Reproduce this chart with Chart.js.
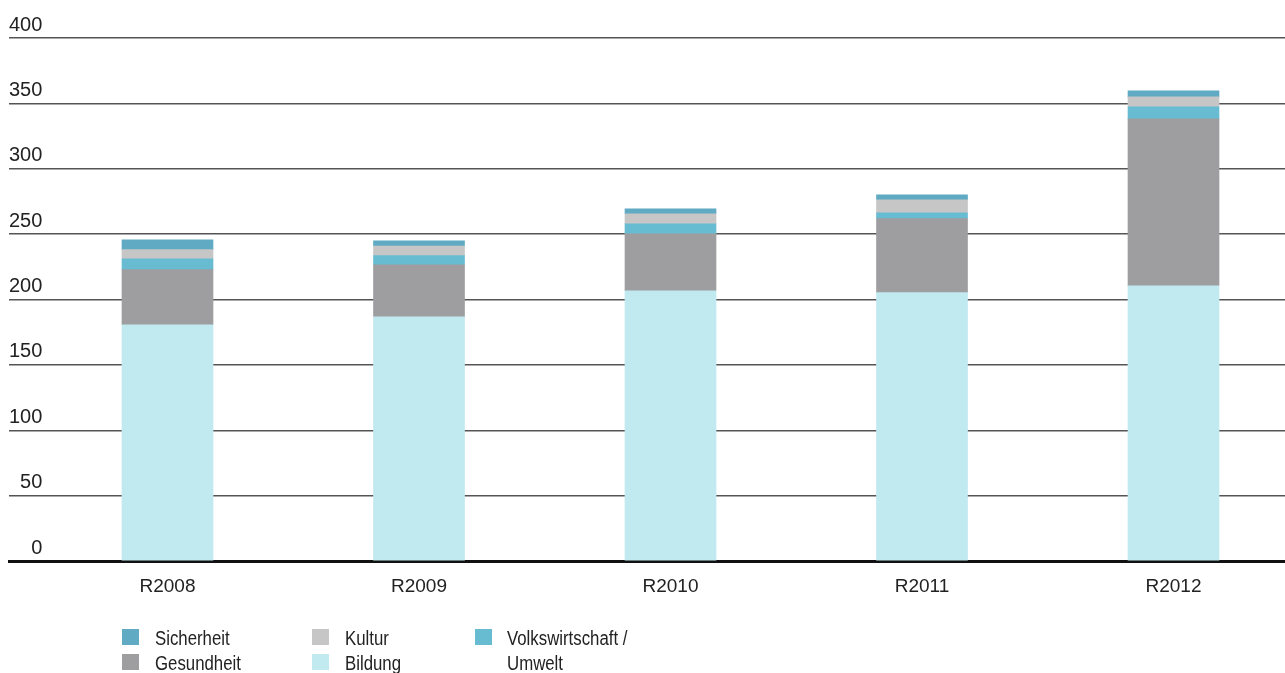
<!DOCTYPE html>
<html>
<head>
<meta charset="utf-8">
<script src="https://cdn.jsdelivr.net/npm/chart.js@4"></script>
<style>
  html, body { margin: 0; padding: 0; background: #fff; overflow: hidden; }
  #wrap { position: relative; width: 1285px; height: 673px; }
  canvas { position: absolute; left: 0; top: 0; }
  .lg { position: absolute; font-family: 'Liberation Sans', sans-serif; font-size: 20px; color: #222; line-height: 25px; white-space: nowrap; transform: scaleX(0.84); transform-origin: 0 0; }
  .sw { position: absolute; width: 17px; height: 16px; }
</style>
</head>
<body>
<div id="wrap">
  <canvas id="c" width="1285" height="673"></canvas>
</div>
<script>
const categories = ['R2008', 'R2009', 'R2010', 'R2011', 'R2012'];
const bildung = [180.7, 186.8, 206.7, 205.2, 210.5];
const gesundheit = [42.1, 39.8, 43.6, 56.6, 127.7];
const volkswirtschaft = [8.4, 6.9, 7.6, 4.5, 9.2];
const kultur = [6.9, 7.4, 7.7, 10.0, 7.6];
const sicherheit = [7.6, 4.0, 3.8, 3.8, 4.6];
const yTicks = [0, 50, 100, 150, 200, 250, 300, 350, 400];

const FONT = "'Liberation Sans', sans-serif";
Chart.defaults.font.family = FONT;
Chart.defaults.font.size = 20;
Chart.defaults.color = '#222';

const toPts = arr => arr.map((v, i) => ({ x: i, y: v }));

const datasets = [
  { label: 'Bildung', data: toPts(bildung), backgroundColor: '#c0e9f0' },
  { label: 'Gesundheit', data: toPts(gesundheit), backgroundColor: '#9e9ea0' },
  { label: 'Volkswirtschaft / Umwelt', data: toPts(volkswirtschaft), backgroundColor: '#68bcd2' },
  { label: 'Kultur', data: toPts(kultur), backgroundColor: '#c6c6c6' },
  { label: 'Sicherheit', data: toPts(sicherheit), backgroundColor: '#60aac4' }
];

const chart = new Chart(document.getElementById('c'), {
  type: 'bar',
  data: { datasets: datasets.map(d => Object.assign({ barThickness: 91, grouped: false, borderWidth: 0, clip: false }, d)) },
  options: {
    responsive: false,
    animation: false,
    layout: { padding: { top: 38, left: 9, right: 0, bottom: 0 } },
    plugins: { legend: { display: false }, tooltip: { enabled: false } },
    scales: {
      x: {
        type: 'linear',
        offset: false,
        min: -0.6302,
        max: 4.4433,
        z: 1,
        grid: { display: false, drawTicks: false, offset: false },
        border: { display: true, color: '#111', width: 3 },
        afterBuildTicks: s => { s.ticks = categories.map((c, i) => ({ value: i })); },
        afterFit: s => { s.height = 112; },
        ticks: {
          padding: 14,
          autoSkip: false,
          maxRotation: 0,
          callback: v => categories[v],
          font: { size: 19 }
        }
      },
      y: {
        stacked: true,
        min: 0,
        max: 400,
        border: { display: false },
        afterBuildTicks: s => { s.ticks = yTicks.map(v => ({ value: v })); },
        grid: {
          drawTicks: false,
          color: ctx => ctx.tick && ctx.tick.value === 0 ? 'rgba(0,0,0,0)' : '#555',
          lineWidth: 1.5
        },
        ticks: {
          mirror: true,
          crossAlign: 'far',
          padding: 0,
          labelOffset: -13,
          font: { size: 20 },
          callback: v => String(v)
        }
      }
    }
  }
});

// HTML legend built from the chart's datasets
const wrap = document.getElementById('wrap');
const legendLayout = [
  { label: 'Sicherheit', box: [122, 629], text: [155, 626] },
  { label: 'Gesundheit', box: [122, 654], text: [155, 651] },
  { label: 'Kultur', box: [312, 629], text: [345, 626] },
  { label: 'Bildung', box: [312, 654], text: [345, 651] },
  { label: 'Volkswirtschaft / Umwelt', box: [475, 629], text: [507, 626] }
];
legendLayout.forEach(item => {
  const ds = chart.data.datasets.find(d => d.label === item.label);
  const sw = document.createElement('div');
  sw.className = 'sw';
  sw.style.left = item.box[0] + 'px';
  sw.style.top = item.box[1] + 'px';
  sw.style.background = ds.backgroundColor;
  wrap.appendChild(sw);
  const t = document.createElement('div');
  t.className = 'lg';
  t.style.left = item.text[0] + 'px';
  t.style.top = item.text[1] + 'px';
  t.innerHTML = ds.label === 'Volkswirtschaft / Umwelt' ? 'Volkswirtschaft /<br>Umwelt' : ds.label;
  wrap.appendChild(t);
});
</script>
</body>
</html>
